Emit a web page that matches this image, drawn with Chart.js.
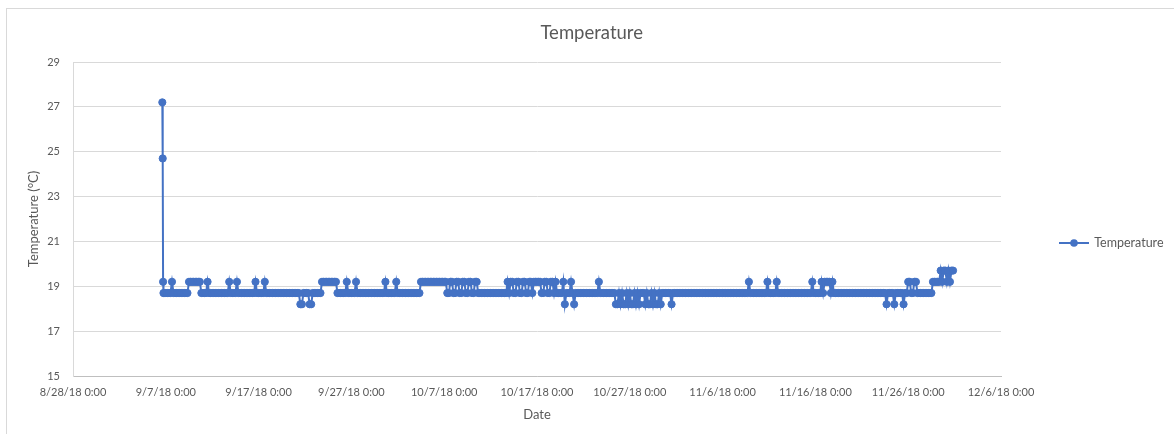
<!DOCTYPE html>
<html>
<head>
<meta charset="utf-8">
<script src="https://cdn.jsdelivr.net/npm/chart.js@4.4.1/dist/chart.umd.min.js"></script>
<style>
html, body { margin: 0; padding: 0; background: #ffffff; overflow: hidden; }
#wrap { position: relative; width: 1174px; height: 434px; overflow: hidden; }
#frame { position: absolute; left: 6px; top: 8px; width: 1200px; height: 500px; border: 1px solid #d9d9d9; box-sizing: border-box; }
#c { position: absolute; left: 0; top: 0; }
</style>
</head>
<body>
<div id="wrap"><div id="frame"></div><canvas id="c" width="1174" height="434"></canvas></div>
<script>
// ---------------- data ----------------
const seriesName = 'Temperature';
// temperature levels used by the logger readings (°C)
const levels = [18.2, 18.7, 19.2, 19.7];
// first readings right after switching the logger on
const warmupTimes = ['2018-09-06T15:00', '2018-09-06T16:00', '2018-09-06T17:00', '2018-09-06T18:00', '2018-09-06T20:00'];
const warmupTemps = [27.2, 24.7, 19.2, 18.7, 18.7];
// then one reading every 4 hours, one string per day starting 9/7/18,
// each character is an index into `levels`
const firstDay = '2018-09-07';
const readingsPerDay = 6;
const dailyReadings = [
  '111121', '111111', '111222', '222221', '111211', '111111', '111112', '111121', '111111', '111121', // 9/7 - 9/16
  '111121', '111111', '111111', '111111', '111001', '111001', '111112', '222222', '222111', '111211', // 9/17 - 9/26
  '111211', '111111', '111111', '111121', '111112', '111111', '111111', '111222', '222222', '222222', // 9/27 - 10/6
  '221122', '112211', '221122', '112211', '111111', '111111', '111112', '122112', '211221', '122122', // 10/7 - 10/16
  '222112', '211221', '211112', '011121', '011111', '111111', '111121', '111111', '111001', '010010', // 10/17 - 10/26
  '100101', '011101', '001010', '010111', '111011', '111111', '111111', '111111', '111111', '111111', // 10/27 - 11/5
  '111111', '111111', '111112', '111111', '111112', '111112', '111111', '111111', '111111', '111121', // 11/6 - 11/15
  '111121', '222212', '111111', '111111', '111111', '111111', '111111', '111101', '111011', '111011', // 11/16 - 11/25
  '221122', '111111', '111122', '222323', '323233'                                                    // 11/26 - 11/30
];
const xTickDates = ['2018-08-28', '2018-09-07', '2018-09-17', '2018-09-27', '2018-10-07', '2018-10-17', '2018-10-27', '2018-11-06', '2018-11-16', '2018-11-26', '2018-12-06'];
const xTickLabels = ['8/28/18 0:00', '9/7/18 0:00', '9/17/18 0:00', '9/27/18 0:00', '10/7/18 0:00', '10/17/18 0:00', '10/27/18 0:00', '11/6/18 0:00', '11/16/18 0:00', '11/26/18 0:00', '12/6/18 0:00'];
const yTicks = [15, 17, 19, 21, 23, 25, 27, 29];
const chartTitle = 'Temperature';
const xTitle = 'Date';
const yTitle = 'Temperature (°C)';

// ---------------- build ----------------
function utc(s) {
  const parts = s.split('T');
  const d = parts[0].split('-').map(Number);
  const t = (parts[1] || '00:00').split(':').map(Number);
  return Date.UTC(d[0], d[1] - 1, d[2], t[0], t[1]);
}
const DAY = 24 * 3600 * 1000;
const points = warmupTimes.map((t, i) => ({ x: utc(t), y: warmupTemps[i] }));
const day0 = utc(firstDay);
dailyReadings.forEach((codes, d) => {
  codes.split('').forEach((c, k) => {
    points.push({ x: day0 + d * DAY + k * (DAY / readingsPerDay), y: levels[Number(c)] });
  });
});
const xTickValues = xTickDates.map(utc);

// ---------------- styling / layout ----------------
const COLOR = '#4472C4';
const TEXT = '#595959';
const FONT = 'Lato';
const W = 1174, H = 434;
const plotLeft = 73, plotRight = 1001, plotTop = 62, plotBottom = 376;
const legendFont = 12.5, legendBox = 28, legendPad = 59;

// legend icon: line with a round marker
const icon = document.createElement('canvas');
icon.width = 30; icon.height = 10;
(function () {
  const g = icon.getContext('2d');
  g.strokeStyle = COLOR; g.lineWidth = 2;
  g.beginPath(); g.moveTo(0, 5); g.lineTo(30, 5); g.stroke();
  g.fillStyle = COLOR;
  g.beginPath(); g.arc(15, 5, 3.8, 0, Math.PI * 2); g.fill();
})();

const mctx = document.createElement('canvas').getContext('2d');
mctx.font = legendFont + 'px ' + FONT;
const legendWidth = legendPad + legendBox + legendFont / 2 + mctx.measureText(seriesName).width + 10;
const padRight = (W - plotRight) - legendWidth;
const padLeft = padRight + 9.4;

const legendShift = {
  id: 'legendShift',
  afterLayout(chart) {
    const l = chart.legend;
    if (l) { l.top += 26; l.bottom += 26; }
  }
};

new Chart(document.getElementById('c'), {
  type: 'scatter',
  data: {
    datasets: [{
      label: seriesName,
      data: points,
      showLine: true,
      borderColor: COLOR,
      backgroundColor: COLOR,
      borderWidth: 2,
      pointRadius: 3.6,
      pointBorderWidth: 1,
      pointBackgroundColor: COLOR,
      pointBorderColor: COLOR,
      tension: 0
    }]
  },
  options: {
    responsive: false,
    animation: false,
    devicePixelRatio: 1,
    layout: { padding: { left: padLeft, right: padRight, top: 0, bottom: 0 } },
    plugins: {
      title: {
        display: true,
        text: chartTitle,
        color: TEXT,
        font: { family: FONT, size: 18.5, weight: 'normal', lineHeight: 1.2 },
        padding: { top: 22, bottom: plotTop - 22 - 18.5 * 1.2 }
      },
      legend: {
        display: true,
        position: 'right',
        align: 'center',
        labels: {
          usePointStyle: true,
          pointStyleWidth: legendBox,
          padding: legendPad,
          color: TEXT,
          font: { family: FONT, size: legendFont },
          generateLabels: (chart) => chart.data.datasets.map((ds, i) => ({
            text: ds.label,
            pointStyle: icon,
            fillStyle: COLOR,
            strokeStyle: COLOR,
            lineWidth: 0,
            hidden: false,
            datasetIndex: i,
            fontColor: TEXT
          }))
        }
      },
      tooltip: { enabled: false }
    },
    scales: {
      x: {
        type: 'linear',
        min: xTickValues[0],
        max: xTickValues[xTickValues.length - 1],
        afterBuildTicks: (scale) => { scale.ticks = xTickValues.map(v => ({ value: v })); },
        afterFit: (scale) => { scale.height = H - plotBottom; },
        grid: { display: false, drawTicks: false },
        border: { display: true, color: '#bfbfbf', width: 1 },
        ticks: {
          autoSkip: false, maxRotation: 0, minRotation: 0, padding: 10,
          color: TEXT, font: { family: FONT, size: 11 },
          callback: (v, i) => xTickLabels[i]
        },
        title: {
          display: true, text: xTitle, color: TEXT,
          font: { family: FONT, size: 13, lineHeight: 1.2 },
          padding: { top: 0, bottom: 11.5 }
        }
      },
      y: {
        type: 'linear',
        min: yTicks[0],
        max: yTicks[yTicks.length - 1],
        afterBuildTicks: (scale) => { scale.ticks = yTicks.map(v => ({ value: v })); },
        afterFit: (scale) => { scale.width = plotLeft - padLeft; },
        grid: { display: true, color: '#d9d9d9', lineWidth: 1, drawTicks: false },
        border: { display: true, color: '#d9d9d9', width: 1 },
        ticks: {
          padding: 13, color: TEXT, font: { family: FONT, size: 11 },
          callback: (v) => String(v)
        },
        title: {
          display: true, text: yTitle, color: TEXT,
          font: { family: FONT, size: 13, lineHeight: 1.2 },
          padding: { top: 34 - padLeft - 7.8, bottom: 0 }
        }
      }
    }
  },
  plugins: [legendShift]
});
</script>
</body>
</html>
